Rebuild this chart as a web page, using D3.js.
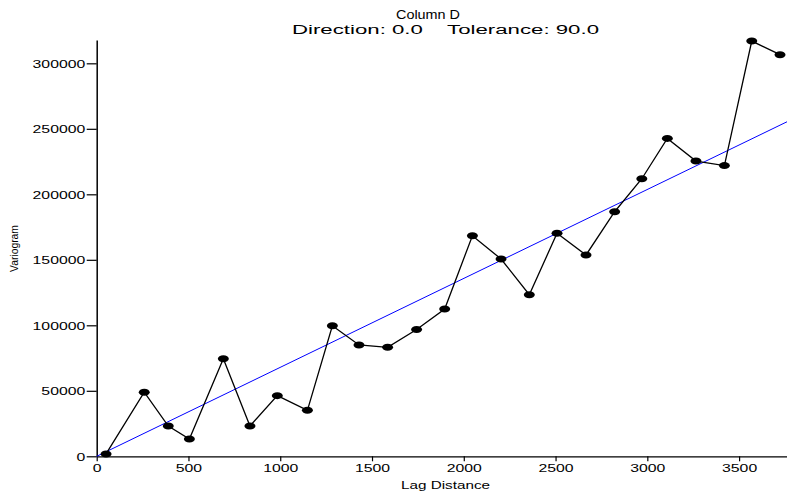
<!DOCTYPE html>
<html>
<head>
<meta charset="utf-8">
<script src="https://cdn.jsdelivr.net/npm/d3@7"></script>
<style>
  body { margin: 0; background: #fff; }
  svg { display: block; }
  text { font-family: "Liberation Sans", Arial, sans-serif; fill: #000; }
</style>
</head>
<body>
<div id="chart"></div>
<script>
const lagDistance = [51, 259, 390, 505, 690, 835, 984, 1148, 1284, 1429, 1585, 1743, 1896,
  2047, 2203, 2357, 2508, 2666, 2822, 2970, 3109, 3265, 3420, 3569, 3723];
const variogram = [1800, 48900, 23100, 13200, 74500, 23100, 46300, 35100, 99700, 85000, 83200,
  96800, 112400, 168400, 150600, 123400, 170200, 153700, 186700, 211900, 242700, 225400,
  221900, 317000, 306600];

// Linear model (no nugget)
const modelSlope = 67.9;

// Axis ticks and extents
const xTicks = [0, 500, 1000, 1500, 2000, 2500, 3000, 3500];
const yTicks = [0, 50000, 100000, 150000, 200000, 250000, 300000];
const xMax = 3761;
const yMax = 317800;

const width = 787, height = 492;
const margin = { top: 40, right: 0, bottom: 35.7, left: 96.7 };

const svg = d3.select("#chart")
  .append("svg")
  .attr("width", width)
  .attr("height", height);

const x = d3.scaleLinear().domain([0, xMax]).range([margin.left, width - margin.right]);
const y = d3.scaleLinear().domain([0, yMax]).range([height - margin.bottom, margin.top]);

// X axis
const xAxis = svg.append("g")
  .attr("transform", `translate(0,${y(0)})`)
  .call(d3.axisBottom(x).tickValues(xTicks).tickSize(5).tickSizeOuter(0).tickFormat(d3.format("d")));
xAxis.attr("font-family", null);
xAxis.select(".domain").attr("stroke-width", 1.3);
xAxis.selectAll(".tick line").attr("stroke-width", 1.2);
xAxis.selectAll(".tick text")
  .attr("y", 0).attr("dy", null)
  .attr("font-size", 10)
  .attr("transform", "translate(0,15.7) scale(1.58,1)");

// Y axis
const yAxis = svg.append("g")
  .attr("transform", `translate(${x(0)},0)`)
  .call(d3.axisLeft(y).tickValues(yTicks).tickSize(10).tickSizeOuter(0).tickFormat(d3.format("d")));
yAxis.attr("font-family", null);
yAxis.select(".domain").attr("stroke-width", 1.5);
yAxis.selectAll(".tick line").attr("stroke-width", 1.2);
yAxis.selectAll(".tick text")
  .attr("x", 0).attr("dy", null)
  .attr("font-size", 10)
  .attr("transform", "translate(-11.4,3.7) scale(1.58,1)");

// Model line
svg.append("path")
  .datum([0, xMax].map(h => [h, modelSlope * h]))
  .attr("fill", "none")
  .attr("stroke", "#0000ff")
  .attr("stroke-width", 1)
  .attr("d", d3.line().x(d => x(d[0])).y(d => y(d[1])));

// Experimental points joined by lines
const points = d3.zip(lagDistance, variogram);
svg.append("path")
  .datum(points)
  .attr("fill", "none")
  .attr("stroke", "#000")
  .attr("stroke-width", 1.3)
  .attr("d", d3.line().x(d => x(d[0])).y(d => y(d[1])));

svg.selectAll("ellipse.pt")
  .data(points)
  .join("ellipse")
  .attr("class", "pt")
  .attr("cx", d => x(d[0]))
  .attr("cy", d => y(d[1]))
  .attr("rx", 5.5)
  .attr("ry", 3.5)
  .attr("fill", "#000");

// Titles
svg.append("text")
  .attr("x", 428).attr("y", 19.3)
  .attr("text-anchor", "middle")
  .attr("font-size", 13)
  .attr("textLength", 64).attr("lengthAdjust", "spacingAndGlyphs")
  .text("Column D");

svg.append("text")
  .attr("x", 445.5).attr("y", 34.3)
  .attr("text-anchor", "middle")
  .attr("font-size", 12.5)
  .style("white-space", "pre")
  .attr("textLength", 307).attr("lengthAdjust", "spacingAndGlyphs")
  .text("Direction: 0.0    Tolerance: 90.0");

// Axis labels
svg.append("text")
  .attr("x", 445.5).attr("y", 489.3)
  .attr("text-anchor", "middle")
  .attr("font-size", 10)
  .attr("textLength", 89).attr("lengthAdjust", "spacingAndGlyphs")
  .text("Lag Distance");

svg.append("text")
  .attr("transform", "translate(17.5,248.5) rotate(-90)")
  .attr("text-anchor", "middle")
  .attr("font-size", 11)
  .attr("textLength", 47).attr("lengthAdjust", "spacingAndGlyphs")
  .text("Variogram");
</script>
</body>
</html>
